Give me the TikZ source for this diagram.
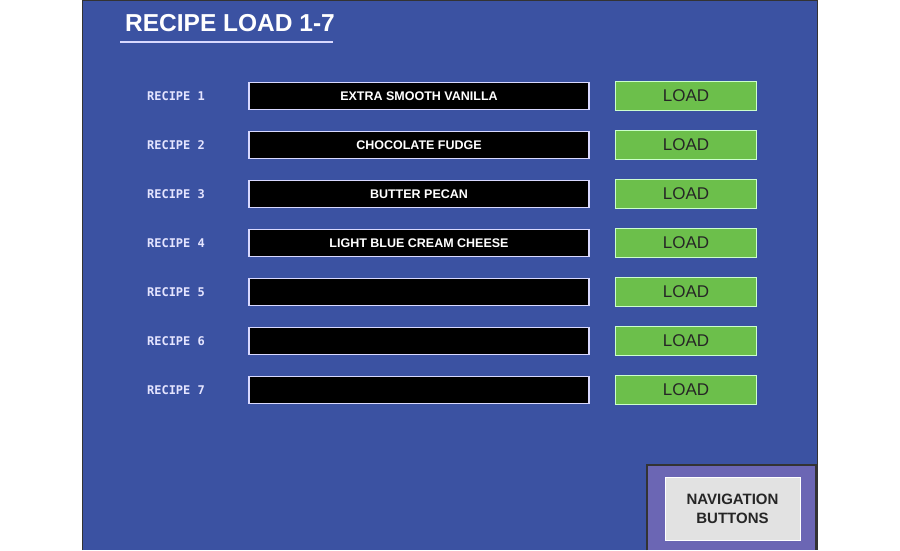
\documentclass[tikz,border=0pt]{standalone}
\usepackage{fontspec}
\setmainfont{Liberation Sans}
\newfontfamily\monof{DejaVu Sans Mono}
\definecolor{panel}{HTML}{3B52A2}
\definecolor{navp}{HTML}{6B66B4}
\definecolor{btn}{HTML}{6CBF4B}
\definecolor{greyb}{HTML}{E2E2E2}
\begin{document}
\begin{tikzpicture}[x=1pt,y=-1pt,
  lbl/.style={text=white!90!blue,font=\monof\bfseries\fontsize{12}{14}\selectfont},
  namebox/.style={draw=white!85!blue,line width=1.2pt,fill=black,minimum width=340,minimum height=27,text=white,font=\bfseries\fontsize{12.5}{14}\selectfont},
  loadbtn/.style={draw=white!80!green,line width=1pt,fill=btn,minimum width=141,minimum height=29,text=black!85,font=\fontsize{17}{20}\selectfont},
]
\useasboundingbox (0,0) rectangle (900,550);
\fill[white] (0,0) rectangle (900,550);
\fill[panel] (82,0) rectangle (818,550);
\draw[black!80,line width=1.5pt] (82.5,550) -- (82.5,0.5) -- (817.5,0.5) -- (817.5,550);
\node[text=white,font=\bfseries\fontsize{24.5}{28}\selectfont,anchor=west,inner sep=0pt] (title) at (125,23) {RECIPE LOAD 1-7};
\draw[white!85!blue,line width=1.3pt] (120,42) -- (333,42);
\foreach \i/\t in {1/EXTRA SMOOTH VANILLA,2/CHOCOLATE FUDGE,3/BUTTER PECAN,4/LIGHT BLUE CREAM CHEESE,5/,6/,7/}{
  \pgfmathsetmacro\yy{96+49*(\i-1)}
  \node[lbl] (r\i) at (176,\yy) {RECIPE \i};
  \node[namebox] (n\i) at (419,\yy) {\t};
  \node[loadbtn] (b\i) at (686,\yy) {LOAD};
}
\fill[navp] (647,465) rectangle (816,550);
\draw[black!80,line width=1.5pt] (647,550) -- (647,465) -- (816,465) -- (816,550);
\node[draw=white,line width=1pt,fill=greyb,minimum width=135,minimum height=63,align=center,font=\bfseries\fontsize{15}{19}\selectfont,text=black!85] (nav) at (732.5,509) {NAVIGATION\\BUTTONS};
\end{tikzpicture}
\end{document}
